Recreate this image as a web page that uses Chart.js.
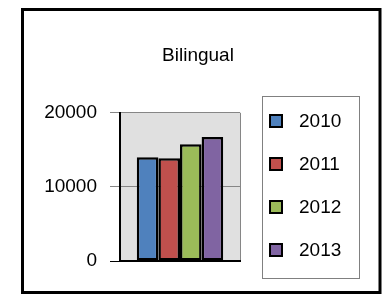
<!DOCTYPE html>
<html>
<head>
<meta charset="utf-8">
<script src="https://cdn.jsdelivr.net/npm/chart.js@4"></script>
<style>
  body { margin: 0; background: #fff; }
  #wrap { position: relative; width: 383px; height: 294px; }
  #legend {
    position: absolute; left: 262px; top: 96px; width: 98px; height: 183px;
    box-sizing: border-box; border: 1px solid #808080; padding-top: 2px;
    font: 19px "Liberation Sans", sans-serif; color: #000;
  }
  .item { display: flex; align-items: center; height: 43px; }
  .swatch { width: 14px; height: 14px; box-sizing: border-box; border: 2px solid #000; margin-left: 6px; margin-right: 16px; }
</style>
</head>
<body>
<div id="wrap">
  <canvas id="chart" width="383" height="294"></canvas>
  <div id="legend"></div>
</div>
<script>
// dados do gráfico
const categories = ['Bilingual'];
const years = ['2010', '2011', '2012', '2013'];
const values = [14000, 13850, 15750, 16750];
const colors = ['#4F81BD', '#C0504D', '#9BBB59', '#8064A2'];
const yTicks = [0, 10000, 20000];

const FONT = 'Liberation Sans';

// fundo cinza da área do gráfico + moldura preta
const framePlugin = {
    id: 'frame',
    beforeDraw(chart) {
        const { ctx, chartArea: a } = chart;
        ctx.save();
        ctx.fillStyle = '#E0E0E0';
        ctx.fillRect(a.left, a.top, a.right - a.left, a.bottom - a.top);
        ctx.strokeStyle = '#868686';
        ctx.lineWidth = 1;
        ctx.beginPath();
        ctx.moveTo(Math.round(a.right) + 0.5, a.top);
        ctx.lineTo(Math.round(a.right) + 0.5, a.bottom);
        ctx.stroke();
        ctx.restore();
    },
    afterDraw(chart) {
        const ctx = chart.ctx;
        ctx.save();
        ctx.strokeStyle = '#000';
        ctx.lineWidth = 3;
        ctx.strokeRect(22.5, 9.5, 357.5, 283);
        ctx.restore();
    }
};

const datasets = years.map((year, i) => ({
    label: year,
    data: [values[i]],
    backgroundColor: colors[i],
    borderColor: '#000',
    borderWidth: 2.5,
    borderSkipped: false,
    categoryPercentage: 0.72,
    barPercentage: 1
}));

const chart = new Chart(document.getElementById('chart'), {
    type: 'bar',
    data: { labels: categories, datasets: datasets },
    options: {
        responsive: false,
        animation: false,
        layout: { padding: { left: 16, right: 3, top: 0, bottom: 33 } },
        plugins: {
            legend: { display: false },
            tooltip: { enabled: false },
            title: {
                display: true,
                text: 'Bilingual',
                color: '#000',
                font: { family: FONT, size: 19, weight: 'normal' },
                padding: { top: 44, bottom: 46 }
            }
        },
        scales: {
            x: {
                ticks: { display: false },
                grid: { display: false },
                border: { color: '#000', width: 2 },
                afterFit: s => { s.height = 0; }
            },
            y: {
                min: 0,
                max: 20000,
                afterBuildTicks: s => { s.ticks = yTicks.map(v => ({ value: v })); },
                ticks: {
                    color: '#000',
                    padding: 13,
                    font: { family: FONT, size: 19 },
                    callback: v => String(v)
                },
                grid: {
                    color: c => (c.tick && c.tick.value === 0 ? '#000' : '#868686'),
                    tickLength: 10,
                    lineWidth: 1
                },
                border: { color: '#000', width: 2 },
                afterFit: s => { s.width = 104; }
            },
            // eixo vazio só para reservar espaço da legenda
            y2: {
                position: 'right',
                display: true,
                ticks: { display: false },
                grid: { display: false },
                border: { display: false },
                afterFit: s => { s.width = 140; }
            }
        }
    },
    plugins: [framePlugin]
});

// legenda em HTML, a partir dos datasets
const legend = document.getElementById('legend');
chart.data.datasets.forEach(ds => {
    const item = document.createElement('div');
    item.className = 'item';
    const sw = document.createElement('span');
    sw.className = 'swatch';
    sw.style.background = ds.backgroundColor;
    const txt = document.createElement('span');
    txt.textContent = ds.label;
    item.appendChild(sw);
    item.appendChild(txt);
    legend.appendChild(item);
});
</script>
</body>
</html>
